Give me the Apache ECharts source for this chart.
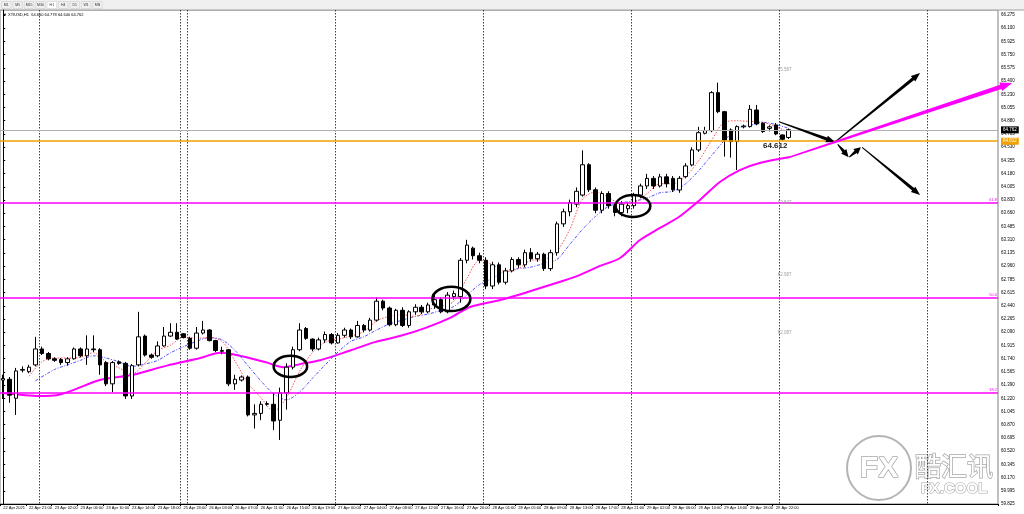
<!DOCTYPE html>
<html><head><meta charset="utf-8">
<script src="https://cdn.jsdelivr.net/npm/echarts@6/dist/echarts.min.js"></script>
<style>html,body{margin:0;padding:0;background:#fff;}#c{width:1024px;height:514px;}</style>
</head><body><div id="c"></div>
<script>
// ---- data ----
// candles: [open, close, low, high], one per H1 bar
const candles = [
[61.46,61.48,61.21,61.53],[61.47,61.26,61.16,61.50],[61.22,61.58,61.00,61.62],[61.59,61.60,61.56,61.64],
[61.57,61.63,61.55,61.66],[61.66,61.87,61.64,62.03],[61.87,61.81,61.79,61.90],[61.81,61.74,61.72,61.83],
[61.74,61.72,61.70,61.76],[61.73,61.69,61.66,61.75],[61.69,61.74,61.65,61.76],[61.74,61.87,61.73,61.89],
[61.87,61.78,61.76,61.89],[61.78,61.87,61.66,62.05],[61.87,61.86,61.83,62.05],[61.86,61.66,61.53,61.88],
[61.69,61.41,61.38,61.71],[61.41,61.69,61.30,61.71],[61.70,61.68,61.66,61.72],[61.68,61.25,61.21,61.70],
[61.25,61.65,61.21,61.67],[61.66,62.03,61.64,62.36],[62.04,61.79,61.77,62.06],[61.79,61.76,61.74,61.81],
[61.78,61.91,61.76,61.97],[61.91,62.04,61.90,62.16],[62.04,62.09,62.03,62.21],[62.09,62.00,61.99,62.21],
[62.07,62.02,62.01,62.08],[62.01,61.88,61.86,62.03],[61.88,62.08,61.86,62.16],[62.08,62.12,62.06,62.24],
[62.12,61.98,61.97,62.13],[61.98,61.85,61.83,61.99],[61.85,61.84,61.80,61.90],[61.86,61.41,61.38,61.87],
[61.41,61.47,61.33,61.53],[61.46,61.50,61.44,61.52],[61.50,61.00,60.98,61.52],[61.00,61.02,60.82,61.14],
[61.02,61.14,60.93,61.18],[61.14,61.15,61.12,61.18],[61.14,60.92,60.80,61.29],[60.93,61.29,60.67,61.36],
[61.29,61.63,61.07,61.68],[61.63,61.86,61.60,61.90],[61.86,62.12,61.84,62.21],[62.14,62.01,61.99,62.16],
[62.00,61.87,61.84,62.01],[61.87,61.99,61.85,62.02],[61.99,62.06,61.95,62.10],[62.06,61.95,61.93,62.08],
[61.95,62.05,61.94,62.08],[62.05,62.12,62.02,62.15],[62.12,62.03,62.00,62.14],[62.03,62.18,62.02,62.24],
[62.18,62.12,62.09,62.20],[62.12,62.25,62.10,62.28],[62.25,62.50,62.23,62.55],[62.50,62.41,62.38,62.52],
[62.41,62.19,62.17,62.43],[62.19,62.38,62.17,62.40],[62.38,62.18,62.16,62.42],[62.18,62.36,62.15,62.38],
[62.36,62.42,62.32,62.46],[62.42,62.36,62.33,62.45],[62.36,62.45,62.34,62.48],[62.45,62.52,62.40,62.58],
[62.52,62.36,62.34,62.55],[62.36,62.58,62.34,62.62],[62.56,62.60,62.52,62.64],[62.56,63.04,62.48,63.07],
[63.04,63.24,63.00,63.31],[63.20,63.10,63.05,63.22],[63.10,63.04,63.00,63.14],[63.04,62.70,62.66,63.08],
[62.70,62.98,62.66,63.02],[62.98,62.75,62.72,63.01],[62.75,62.90,62.72,62.94],[62.90,63.05,62.88,63.08],
[63.05,62.98,62.94,63.08],[62.98,63.14,62.95,63.18],[63.14,63.06,63.02,63.20],[63.06,63.12,63.02,63.15],
[63.12,62.93,62.90,63.14],[62.93,63.14,62.90,63.18],[63.14,63.52,63.10,63.55],[63.52,63.68,63.48,63.72],
[63.68,63.80,63.62,63.84],[63.78,63.95,63.74,64.00],[63.90,64.30,63.88,64.49],[64.30,63.97,63.94,64.32],
[63.97,63.70,63.66,64.00],[63.70,63.92,63.66,63.95],[63.92,63.76,63.72,63.95],[63.76,63.67,63.62,63.80],
[63.67,63.78,63.62,63.82],[63.72,63.76,63.66,63.80],[63.76,63.90,63.72,63.93],[63.90,64.02,63.86,64.05],
[64.02,64.12,63.98,64.18],[64.12,64.02,63.98,64.15],[64.02,64.14,64.00,64.18],[64.14,64.05,64.00,64.18],
[64.12,63.97,63.94,64.15],[63.967,64.121,63.93,64.15],[64.143,64.284,64.12,64.32],[64.297,64.495,64.28,64.53],
[64.495,64.723,64.47,64.80],[64.715,64.75,64.70,64.80],[64.75,65.251,64.73,65.27],[65.251,65.00,64.98,65.383],
[65.00,64.627,64.407,65.01],[64.759,64.605,64.394,64.78],[64.605,64.803,64.231,64.82],[64.80,64.81,64.78,64.83],
[64.803,65.031,64.79,65.088],[65.022,64.838,64.82,65.088],[64.847,64.737,64.72,64.86],[64.78,64.80,64.74,64.82],
[64.825,64.706,64.69,64.85],[64.693,64.636,64.62,64.70],[64.660,64.762,64.640,64.778]
];
// moving averages: [barIndex, price]
const maSlow = [[0,61.29],[5.7,61.25],[8.3,61.26],[15,61.46],[20.2,61.53],[25.4,61.65],[30.6,61.75],[33.7,61.82],
[35.7,61.80],[41,61.69],[43.5,61.63],[46.1,61.67],[49.2,61.72],[53.9,61.85],[57.7,61.96],[61.6,62.04],[65.5,62.145],
[69.4,62.279],[72.5,62.424],[77.2,62.516],[81,62.608],[84.9,62.714],[88.8,62.82],[92.7,62.965],[95.8,63.07],
[98.9,63.307],[102,63.466],[105.1,63.62],[108.2,63.835],[111.3,64.072],[114.4,64.23],[117.5,64.323],[122.2,64.402]];
const maFast = [[4,61.51],[6,61.70],[8,61.75],[10,61.75],[12,61.76],[14,61.82],[16,61.70],[18,61.62],[20,61.54],[22,61.68],
[24,61.85],[26,61.92],[28,62.03],[30,62.01],[32,62.02],[34,61.97],[36,61.71],[38,61.42],[40,61.23],[42,61.05],[44,61.23],
[46,61.57],[48,61.82],[50,61.96],[52,62.00],[54,62.04],[56,62.10],[58,62.24],[60,62.30],[62,62.32],[64,62.30],[66,62.39],
[68,62.43],[70,62.50],[72,62.80],[74,63.04],[76,62.98],[78,62.89],[80,62.93],[82,63.04],[84,63.05],[86,63.16],[88,63.45],
[90,63.85],[92,63.94],[94,63.87],[96,63.78],[98,63.80],[100,63.92],[102,64.05],[104,64.05],[106,64.15],[108,64.35],
[110,64.62],[112,64.86],[114,64.88],[116,64.87],[118,64.86],[120,64.80],[122,64.73]];
const maMid = [[5,61.45],[8,61.60],[10,61.66],[12,61.72],[14,61.78],[16,61.75],[18,61.70],[20,61.64],[22,61.67],[24,61.72],
[26,61.82],[28,61.90],[30,61.97],[32,62.02],[34,61.99],[36,61.85],[38,61.65],[40,61.45],[42,61.28],[44,61.20],[46,61.30],
[48,61.48],[50,61.66],[52,61.83],[54,61.97],[56,62.03],[58,62.12],[60,62.20],[62,62.25],[64,62.30],[66,62.33],[68,62.38],
[70,62.43],[72,62.58],[74,62.72],[76,62.80],[78,62.90],[80,62.93],[82,62.95],[84,63.00],[86,63.05],[88,63.25],[90,63.45],
[92,63.62],[94,63.75],[96,63.80],[98,63.82],[100,63.86],[102,63.93],[104,63.95],[106,64.05],[108,64.22],[110,64.42],
[112,64.62],[114,64.78],[116,64.82],[118,64.86],[120,64.83],[122,64.78]];
const fibLevels = [63.795, 62.542, 61.290];
const fibNames = ['61.8', '50.0', '38.2'];
const supportPrice = 64.612;
const bidPrice = 64.762;
const daySeparators = [5.5, 27.5, 28.5, 51.5, 74.5, 97.5, 120.5, 143.5];
const priceTicks = ['59.825','59.995','60.170','60.345','60.520','60.695','60.870','61.045','61.220','61.390','61.565',
'61.740','61.915','62.090','62.265','62.440','62.615','62.785','62.960','63.135','63.310','63.485','63.660','63.830',
'64.005','64.180','64.355','64.530','64.705','64.880','65.055','65.230','65.400','65.575','65.750','65.925','66.100','66.275'];
const timeLabels = ['22 Apr 2021','22 Apr 21:00','23 Apr 02:00','23 Apr 06:00','23 Apr 10:00','23 Apr 14:00','23 Apr 18:00',
'25 Apr 23:00','26 Apr 03:00','26 Apr 07:00','26 Apr 11:00','26 Apr 15:00','26 Apr 19:00','27 Apr 00:00','27 Apr 04:00',
'27 Apr 08:00','27 Apr 12:00','27 Apr 16:00','27 Apr 20:00','28 Apr 01:00','28 Apr 05:00','28 Apr 09:00','28 Apr 13:00',
'28 Apr 17:00','28 Apr 21:00','29 Apr 02:00','29 Apr 06:00','29 Apr 10:00','29 Apr 14:00','29 Apr 18:00','29 Apr 22:00'];
const slotCount = 155;
// drawn objects, in [barIndex, price]
const blackArrows = [[[120.6,64.864],[129.2,64.60]],[[129.2,64.60],[142.4,65.51]],[[129.6,64.57],[131.3,64.40]],
[[131.4,64.40],[133.2,64.53]],[[133.4,64.53],[142.4,63.90]]];
const trendArrow = [[122.2,64.402],[156.7,65.378]];
const ellipses = [[44.6,61.64,2.6,0.14],[69.6,62.53,2.95,0.16],[97.8,63.756,2.7,0.145]];
const chartTexts = [[120.3,65.55,'65.587'],[120.3,63.80,'63.847'],[120.3,62.85,'62.987'],[120.3,62.08,'62.087']];
const priceNote = [118.0,64.55,'64.612'];
const tfButtons = ['M1','M5','M15','M30','H1','H4','D1','W1','MN'];
const titleText = '\u25BC XTIUSD,H1  64.660 64.778 64.640 64.762';

// ---- chart ----
const yMin = 59.825, yMax = 66.341;
const yStep = (66.275 - 59.825) / 37;
const chart = echarts.init(document.getElementById('c'), null, {renderer: 'canvas'});
const F = 'Liberation Sans, Arial, sans-serif';

function taper(p1, p2, w1, w2, hl, hw) {
  const dx = p2[0]-p1[0], dy = p2[1]-p1[1], len = Math.hypot(dx, dy) || 1;
  const ux = dx/len, uy = dy/len, nx = -uy, ny = ux;
  const bx = p2[0]-ux*hl, by = p2[1]-uy*hl;
  return [[p1[0]+nx*w1, p1[1]+ny*w1],[bx+nx*w2, by+ny*w2],[bx+nx*hw, by+ny*hw],[p2[0],p2[1]],
          [bx-nx*hw, by-ny*hw],[bx-nx*w2, by-ny*w2],[p1[0]-nx*w1, p1[1]-ny*w1]];
}

const tb = [{type:'rect', shape:{x:0,y:0,width:1024,height:10}, style:{fill:'#f0f0f0'}},
  {type:'line', shape:{x1:0,y1:10,x2:1024,y2:10}, style:{stroke:'#a0a0a0', lineWidth:1}}];
tfButtons.forEach((b, k) => {
  const x = 1.5 + k*11.4;
  tb.push({type:'rect', shape:{x:x, y:1.5, width:9.5, height:7}, style:{fill: b==='H1' ? '#ffffff' : '#f0f0f0', stroke:'#c8c8c8', lineWidth:0.5}});
  tb.push({type:'text', x: x+4.75, y: 5, style:{text:b, fill:'#333', font:'3.5px '+F, textAlign:'center', textVerticalAlign:'middle'}});
});
tb.push({type:'text', x:3, y:15, style:{text:titleText, fill:'#000', font:'4px '+F, textVerticalAlign:'middle'}});
// watermark
tb.push({type:'circle', shape:{cx:879, cy:468, r:32}, style:{fill:'none', stroke:'#b4b4b4', lineWidth:2}});
tb.push({type:'text', x:879, y:469, style:{text:'FX', fill:'#fff', stroke:'#a8a8a8', lineWidth:1.5, font:'bold 30px '+F, textAlign:'center', textVerticalAlign:'middle'}});
tb.push({type:'text', x:954, y:466, style:{text:'酷汇讯', fill:'#fff', stroke:'#a8a8a8', lineWidth:1.5, font:'26px "Noto Sans CJK SC"', textAlign:'center', textVerticalAlign:'middle'}});
tb.push({type:'text', x:954, y:489, style:{text:'FX.COOL', fill:'#fff', stroke:'#a8a8a8', lineWidth:1.2, font:'bold 15px '+F, textAlign:'center', textVerticalAlign:'middle'}});

const option = {
  animation: false,
  backgroundColor: '#fff',
  graphic: tb,
  grid: {left: 0, top: 10, width: 998, height: 494, show: true, borderColor: '#808080', borderWidth: 1, backgroundColor: 'transparent'},
  xAxis: [{
    type: 'category', data: Array.from({length: slotCount}, (_, k) => String(k)), boundaryGap: true,
    axisLine: {lineStyle: {color: '#000', width: 1}},
    axisTick: {show: true, length: 2, interval: (k) => k % 4 === 0 && k <= 120, lineStyle: {color: '#000'}},
    axisLabel: {interval: 0, align: 'left', margin: 2, fontSize: 4, fontFamily: F, color: '#000',
      formatter: (v, k) => (k % 4 === 0 && timeLabels[k/4]) ? timeLabels[k/4] : ''},
    splitLine: {show: false}
  }, {
    type: 'value', min: -0.5, max: slotCount - 0.5, show: false
  }],
  yAxis: {
    type: 'value', position: 'right', min: yMin, max: yMax, interval: yStep, scale: true,
    axisLine: {show: true, lineStyle: {color: '#000', width: 1}},
    axisTick: {show: true, length: 2, lineStyle: {color: '#000'}},
    axisLabel: {margin: 3, fontSize: 4.5, fontFamily: F, color: '#000', showMaxLabel: false,
      formatter: (v) => { const k = Math.round((v - yMin)/yStep); return Math.abs(yMin + k*yStep - v) < 1e-6 ? (priceTicks[k] || '') : ''; }},
    splitLine: {show: false}
  },
  series: [
    { // day separators
      type: 'custom', xAxisIndex: 1, data: daySeparators.map(v => [v, yMin]), z: 1, silent: true,
      renderItem: (p, api) => {
        const a = api.coord([daySeparators[p.dataIndex], yMax]);
        const b = api.coord([daySeparators[p.dataIndex], yMin]);
        return {type:'line', shape:{x1:Math.round(a[0])+0.5, y1:a[1], x2:Math.round(b[0])+0.5, y2:b[1]}, style:{stroke:'#404040', lineWidth:1, lineDash:[1.5,1.5]}};
      }
    },
    { // horizontal levels
      type: 'line', xAxisIndex: 0, data: [], silent: true,
      markLine: {symbol: ['none','none'], silent: true, animation: false, data: [
        ...fibLevels.map((v, k) => ({yAxis: v, lineStyle: {color: '#ff00ff', width: 1.5, type: 'solid'},
          label: {show: true, position: 'insideEndTop', formatter: fibNames[k], color: '#ff00ff', fontSize: 4, fontFamily: F, distance: 1}})),
        {yAxis: bidPrice, lineStyle: {color: '#b0b0b0', width: 1, type: 'solid'},
          label: {show: true, position: 'end', formatter: bidPrice.toFixed(3), color: '#fff', backgroundColor: '#000', fontSize: 4.5, fontFamily: F, padding: [1,2,1,2], distance: 3}},
        {yAxis: supportPrice, lineStyle: {color: '#f0a000', width: 1.5, type: 'solid'},
          label: {show: true, position: 'end', formatter: supportPrice.toFixed(3), color: '#fff', backgroundColor: '#f0a000', fontSize: 4.5, fontFamily: F, padding: [1,2,1,2], distance: 3}}
      ]}
    },
    {type: 'line', xAxisIndex: 1, data: maSlow, symbol: 'none', smooth: 0.3, lineStyle: {color: '#ff00ff', width: 2}, z: 3, silent: true},
    {type: 'line', xAxisIndex: 1, data: maMid, symbol: 'none', smooth: 0.3, lineStyle: {color: '#5050ff', width: 1, type: [3,1.5,1,1.5]}, z: 3, silent: true},
    {type: 'line', xAxisIndex: 1, data: maFast, symbol: 'none', smooth: 0.3, lineStyle: {color: '#ff5050', width: 1, type: [1.5,1.5]}, z: 3, silent: true},
    {
      type: 'candlestick', xAxisIndex: 0, data: candles, barWidth: 4, z: 4, silent: true,
      itemStyle: {color: '#ffffff', color0: '#000000', borderColor: '#000000', borderColor0: '#000000', borderWidth: 1}
    },
    { // ellipses
      type: 'custom', xAxisIndex: 1, data: ellipses.map(e => [e[0], e[1]]), z: 6, silent: true,
      renderItem: (p, api) => {
        const e = ellipses[p.dataIndex];
        const c = api.coord([e[0], e[1]]);
        const s = api.size([e[2], e[3]]);
        return {type:'ellipse', shape:{cx:c[0], cy:c[1], rx:s[0], ry:s[1]}, style:{fill:'none', stroke:'#000', lineWidth:2.5}};
      }
    },
    { // black arrows
      type: 'custom', xAxisIndex: 1, data: blackArrows.map(a => a[0]), z: 7, clip: false, silent: true,
      renderItem: (p, api) => {
        const a = blackArrows[p.dataIndex];
        const p1 = api.coord(a[0]), p2 = api.coord(a[1]);
        const len = Math.hypot(p2[0]-p1[0], p2[1]-p1[1]);
        const hl = Math.min(9, len*0.45);
        return {type:'polygon', shape:{points: taper(p1, p2, 0.5, 1.6, hl, 3.5)}, style:{fill:'#000'}};
      }
    },
    { // magenta trend arrow
      type: 'custom', xAxisIndex: 1, data: [trendArrow[0]], z: 7, clip: false, silent: true,
      renderItem: (p, api) => {
        const p1 = api.coord(trendArrow[0]), p2 = api.coord(trendArrow[1]);
        return {type:'polygon', shape:{points: taper(p1, p2, 0.8, 2.2, 12, 4.5)}, style:{fill:'#ff00ff'}};
      }
    },
    { // texts on chart
      type: 'custom', xAxisIndex: 1, data: chartTexts.map(t => [t[0], t[1]]), z: 5, silent: true,
      renderItem: (p, api) => {
        const t = chartTexts[p.dataIndex];
        const c = api.coord([t[0], t[1]]);
        return {type:'text', x:c[0], y:c[1], style:{text:t[2], fill:'#a0a0a0', font:'4.5px '+F, textVerticalAlign:'middle'}};
      }
    },
    {
      type: 'custom', xAxisIndex: 1, data: [[priceNote[0], priceNote[1]]], z: 8, silent: true,
      renderItem: (p, api) => {
        const c = api.coord([priceNote[0], priceNote[1]]);
        return {type:'text', x:c[0], y:c[1], style:{text:priceNote[2], fill:'#222', font:'bold 8px '+F, textVerticalAlign:'middle'}};
      }
    }
  ]
};
chart.setOption(option);
</script>
</body></html>
